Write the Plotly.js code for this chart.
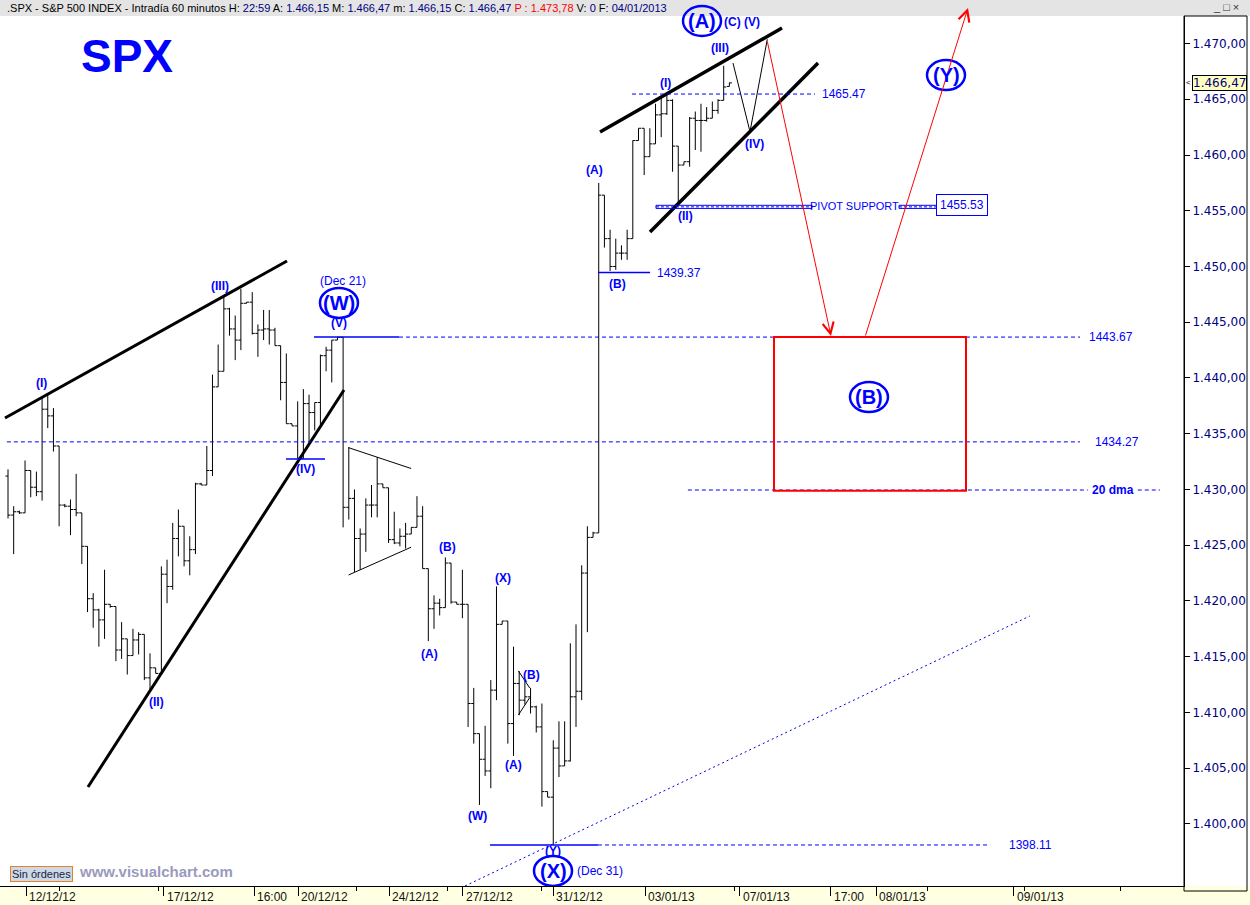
<!DOCTYPE html>
<html><head><meta charset="utf-8">
<script src="https://cdn.plot.ly/plotly-3.0.1.min.js"></script>
<style>html,body{margin:0;padding:0;background:#fff}#chart{width:1250px;height:905px}</style>
</head><body><div id="chart"></div>
<script>
// ---- hourly OHLC bars (SPX, 11/12/12 - 04/01/13) ----
const opens  = [1431.2,1427.7,1428.0,1427.9,1431.7,1430.2,1429.8,1437.2,1436.6,1433.9,1428.6,1428.5,1428.2,1427.9,1424.9,1420.2,1419.2,1418.3,1419.7,1419.5,1415.6,1416.6,1415.1,1416.5,1417.0,1413.1,1414.0,1413.5,1422.4,1421.3,1425.6,1426.7,1423.6,1424.6,1430.5,1430.4,1431.7,1439.2,1440.6,1446.2,1444.4,1443.4,1446.7,1446.8,1444.0,1444.3,1444.4,1444.3,1442.9,1439.6,1435.9,1435.7,1432.8,1437.7,1436.9,1437.8,1442.0,1442.5,1443.4,1443.65,1428.4,1429.2,1425.6,1426.0,1428.6,1428.6,1430.5,1430.15,1425.5,1425.2,1425.8,1426.0,1426.6,1427.6,1422.9,1419.3,1419.8,1419.4,1423.4,1419.9,1419.7,1419.7,1410.8,1408.1,1405.8,1404.75,1412.0,1417.9,1418.2,1409.0,1412.6,1411.1,1411.4,1410.5,1408.7,1402.9,1402.4,1406.8,1405.2,1405.65,1411.4,1411.9,1422.5,1425.7,1426.1,1456.4,1452.5,1450.0,1451.2,1451.2,1452.5,1461.3,1462.4,1459.85,1461.0,1463.6,1463.7,1464.9,1460.8,1459.1,1459.4,1463.3,1463.1,1463.1,1463.3,1464.0,1464.9,1466.15];
const highs  = [1431.8,1428.5,1428.1,1432.6,1431.7,1431.6,1438.3,1438.6,1437.3,1433.9,1428.7,1429.1,1431.4,1427.9,1424.9,1420.7,1419.3,1422.8,1419.7,1419.5,1418.1,1416.6,1417.5,1417.2,1417.0,1415.3,1414.0,1423.1,1423.7,1427.0,1428.2,1426.7,1425.8,1430.6,1430.6,1433.9,1440.3,1443.0,1447.4,1446.3,1445.6,1448.0,1446.8,1447.7,1444.8,1446.1,1446.1,1444.5,1442.9,1442.2,1435.9,1437.9,1439.0,1438.5,1437.8,1442.1,1442.8,1443.4,1443.65,1443.67,1433.8,1430.0,1426.5,1429.2,1430.4,1432.9,1430.5,1430.15,1428.0,1426.5,1427.0,1426.6,1429.4,1428.5,1422.9,1420.5,1420.2,1423.9,1423.4,1419.9,1422.8,1419.7,1412.2,1408.1,1408.8,1412.9,1421.3,1418.2,1418.2,1415.9,1413.7,1412.9,1412.2,1410.6,1410.8,1402.9,1407.5,1409.2,1409.2,1416.2,1417.9,1423.2,1426.7,1426.2,1457.5,1456.4,1453.3,1452.5,1451.9,1453.3,1461.3,1462.4,1462.4,1462.4,1464.6,1465.2,1465.5,1465.0,1460.8,1459.4,1463.4,1463.9,1464.6,1464.3,1464.8,1465.0,1468.0,1466.5];
const lows   = [1427.4,1424.2,1427.8,1427.9,1429.3,1429.4,1429.0,1435.5,1433.4,1426.7,1428.4,1425.9,1427.6,1423.3,1419.0,1417.6,1415.9,1416.6,1419.4,1414.6,1414.8,1413.4,1415.1,1415.2,1412.9,1412.0,1413.5,1413.5,1419.8,1421.0,1424.0,1423.1,1422.3,1424.2,1430.4,1430.4,1431.2,1439.2,1440.6,1443.8,1441.6,1442.5,1446.7,1443.9,1441.9,1443.4,1443.0,1442.9,1438.0,1435.9,1435.7,1432.8,1432.8,1434.3,1435.3,1435.8,1440.6,1439.6,1443.4,1426.6,1427.3,1422.6,1422.8,1424.4,1427.5,1427.5,1430.15,1425.2,1425.1,1424.9,1424.7,1426.0,1426.6,1422.9,1416.4,1417.5,1418.7,1419.4,1419.75,1419.7,1418.45,1408.7,1407.2,1401.7,1404.3,1403.2,1411.1,1417.9,1407.2,1406.1,1409.75,1410.7,1409.9,1408.2,1401.55,1402.4,1398.11,1404.2,1405.2,1405.6,1408.7,1411.1,1417.2,1425.7,1426.1,1451.7,1449.6,1449.7,1450.6,1450.6,1452.5,1461.3,1458.2,1459.85,1461.0,1461.6,1463.6,1458.5,1455.5,1459.1,1458.95,1460.45,1460.3,1463.0,1463.3,1463.7,1464.9,1466.15];
const closes = [1427.7,1428.0,1427.9,1431.7,1430.2,1429.8,1437.2,1436.6,1433.9,1428.6,1428.5,1428.2,1427.9,1424.9,1420.2,1419.2,1418.3,1419.7,1419.5,1415.6,1416.6,1415.1,1416.5,1417.0,1413.1,1414.0,1413.5,1422.4,1421.3,1425.6,1426.7,1423.6,1424.6,1430.5,1430.4,1431.7,1439.2,1440.6,1446.2,1444.4,1443.4,1446.7,1446.8,1444.0,1444.3,1444.4,1444.3,1442.9,1439.6,1435.9,1435.7,1432.8,1437.7,1436.9,1437.8,1442.0,1442.5,1443.4,1443.65,1428.4,1429.2,1425.6,1426.0,1428.6,1428.6,1430.5,1430.15,1425.5,1425.2,1425.8,1426.0,1426.6,1427.6,1422.9,1419.3,1419.8,1419.4,1423.4,1419.9,1419.7,1419.7,1410.8,1408.1,1405.8,1404.75,1412.0,1417.9,1418.2,1409.0,1412.6,1411.1,1411.4,1410.5,1408.7,1402.9,1402.4,1406.8,1405.2,1405.65,1411.4,1411.9,1422.5,1425.7,1426.1,1456.4,1452.5,1450.0,1451.2,1451.2,1452.5,1461.3,1462.4,1459.85,1461.0,1463.6,1463.7,1464.9,1460.8,1459.1,1459.4,1463.3,1463.1,1463.1,1463.3,1464.0,1464.9,1466.1,1466.47];

// ---- time axis (bar-index units) ----
const tickLabels = ['12/12/12','17/12/12','16:00','20/12/12','24/12/12','27/12/12','31/12/12','03/01/13','07/01/13','17:00','08/01/13','09/01/13'];
const tickBars   = [3.17, 27.46, 43.31, 51.06, 67.08, 80.1, 95.95, 112.15, 128.87, 144.89, 152.82, 177.1];
const minorBars  = [9.15, 26.58, 61.27, 77.29, 94.01, 127.9, 161.8, 178.9, 195.86];
const priceTicks = [1400,1405,1410,1415,1420,1425,1430,1435,1440,1445,1450,1455,1460,1465,1470];

// ---- price levels ----
const lvl1465 = 1465.47, lvl1443 = 1443.67, lvl1434 = 1434.27, dma20 = 1429.95, lvl1398 = 1398.11, pivot = 1455.35, lvlB = 1449.46, lvlIV = 1432.73;
const lastPrice = 1466.47;

const idx = closes.map((_, i) => i);
const BLUE = '#0000ff';
const FONT = 'Liberation Sans, Arial, sans-serif';

const trace = {
  type: 'ohlc', x: idx, open: opens, high: highs, low: lows, close: closes,
  increasing: {line: {color: '#000', width: 1}}, decreasing: {line: {color: '#000', width: 1}},
  tickwidth: 0.45, hoverinfo: 'none', showlegend: false
};

const shapes = [];
const ann = [];
function line(x0,y0,x1,y1,color,width,dash){shapes.push({type:'line',xref:'x',yref:'y',x0,y0,x1,y1,layer:'above',line:{color,width,dash:dash||'solid'}});}
function ptext(x,y,text,size,color,bold,anchor){ann.push({xref:'x',yref:'y',x,y,text:bold?'<b>'+text+'</b>':text,showarrow:false,xanchor:anchor||'center',yanchor:'middle',font:{family:FONT,size,color}});}
function ptxt(x,y,text,font,extra){ann.push(Object.assign({xref:'paper',yref:'paper',x,y,text,showarrow:false,xanchor:'center',yanchor:'middle',font},extra||{}));}
function circ(x,y,rx,ry,xref,yref){shapes.push({type:'circle',xref:xref||'x',yref:yref||'y',xsizemode:'pixel',ysizemode:'pixel',xanchor:x,yanchor:y,x0:-rx,x1:rx,y0:-ry,y1:ry,layer:'above',line:{color:'#0000ff',width:2.5}});}
const PX = v => v/1184, PY = v => (886-v)/870;   // pixel -> paper helpers for page furniture

// backgrounds
shapes.push({type:'rect',xref:'paper',yref:'paper',x0:0,x1:1.06,y0:1,y1:1+16/870,fillcolor:'#E4E4E4',line:{width:0},layer:'below'});
shapes.push({type:'rect',xref:'paper',yref:'paper',x0:0,x1:1.06,y0:-19/870,y1:0,fillcolor:'#FFFFE1',line:{width:0},layer:'below'});
shapes.push({type:'rect',xref:'paper',yref:'paper',x0:1,x1:PX(1247),y0:-5/870,y1:1,line:{color:'#000',width:1},layer:'above'});

// thick trend lines
line(-0.53,1436.41,49.12,1450.49,'#000',3);
line(14.08,1403.31,59.15,1438.92,'#000',3);
line(104.23,1462.06,136.27,1471.39,'#000',3.5);
line(113.03,1453.09,142.61,1468.25,'#000',3.5);
// thin triangles
line(59.96,1433.75,70.97,1431.88,'#000',1);
line(59.96,1422.33,70.97,1424.82,'#000',1);
line(89.86,1413.72,91.85,1412.19,'#000',1);
line(89.86,1409.77,91.85,1411.33,'#000',1);
// zig-zag projection
line(127.64,1468.25,130.63,1462.09,'#000',1);
line(130.63,1462.09,133.68,1470.38,'#000',1);

// level lines
const DASH = '4px,3px';
line(109.86,lvl1465,142.08,lvl1465,BLUE,1,DASH);
line(53.87,lvl1443,68.84,lvl1443,BLUE,1.5);
line(68.84,lvl1443,188.73,lvl1443,BLUE,1,DASH);
line(-0.2,lvl1434,188.73,lvl1434,BLUE,1,DASH);
line(119.7,dma20,190.1,dma20,BLUE,1,DASH);
line(198.9,dma20,202.8,dma20,BLUE,1,DASH);
line(84.86,lvl1398,103.87,lvl1398,BLUE,1.5);
line(103.87,lvl1398,172.9,lvl1398,BLUE,1,DASH);
line(103.87,lvlB,113.03,lvlB,BLUE,1.5);
line(48.94,lvlIV,55.81,lvlIV,BLUE,1.5);
// pivot support double line
[[114.08,141.55],[156.87,163.56]].forEach(([a,b])=>{
  shapes.push({type:'rect',xref:'x',yref:'y',x0:a,x1:b,y0:pivot-0.14,y1:pivot+0.14,layer:'above',line:{color:BLUE,width:1}});
  line(a,pivot,b,pivot,BLUE,1,'3px,2px');
});
// dotted support diagonal
line(80.46,1394.43,179.9,1418.65,'#0000dd',1,'2px,3px');
// red (B) box
shapes.push({type:'rect',xref:'x',yref:'y',x0:134.86,x1:168.66,y0:1429.89,y1:1443.67,layer:'above',line:{color:'#ff0000',width:2}});

// red arrows
ann.push({xref:'x',yref:'y',axref:'x',ayref:'y',x:144.89,y:1443.76,ax:133.63,ay:1470.31,text:'',showarrow:true,arrowhead:5,arrowsize:2.2,arrowwidth:1,arrowcolor:'#ff0000'});
ann.push({xref:'paper',yref:'paper',x:PX(968),y:PY(8),ax:-103,ay:329,text:'',showarrow:true,arrowhead:5,arrowsize:2.2,arrowwidth:1,arrowcolor:'#ff0000'});

// wave labels
const waveLabels = [['(I)',5.81,1439.55],['(II)',26.23,1410.94],['(III)',37.32,1448.25],['(IV)',52.46,1431.83],['(V)',58.27,1444.93],['(A)',74.12,1415.25],['(B)',77.29,1424.84],['(X)',87.15,1422.06],['(W)',82.57,1400.71],['(A)',89.08,1405.29],['(B)',92.08,1413.36],['(Y)',95.95,1397.6],['(A)',103.17,1458.65],['(B)',107.22,1448.43],['(I)',115.67,1466.46],['(II)',119.19,1454.53],['(III)',125.35,1469.6],['(IV)',131.51,1460.99]];
waveLabels.forEach(([t,x,y])=>ptext(x,y,t,12,'#0000ff',true));
const bigLabels = [['(W)',58.27,1446.73],['(X)',95.95,1395.78],['(Y)',165.14,1467.17],['(B)',151.58,1438.29]];
bigLabels.forEach(([t,x,y])=>{ptext(x,y,t,20,'#0000ff',true);circ(x,y,19,15);});
ptxt(PX(702),PY(21),'<b>(A)</b>',{family:FONT,size:20,color:'#0000ff'});
circ(PX(702),PY(21),19,15,'paper','paper');
ptxt(PX(742),PY(22),'<b>(C) (V)</b>',{family:FONT,size:12,color:'#0000ff'});
ptext(58.98,1448.70,'(Dec 21)',12,BLUE,false);
ptext(99.9,1395.78,'(Dec 31)',12,BLUE,false,'left');
ptext(147.1,lvl1465,'1465.47',12,BLUE,false);
ptext(113.9,lvlB,'1439.37',12,BLUE,false,'left');
ptext(194.2,lvl1443,'1443.67',12,BLUE,false);
ptext(195.2,lvl1434,'1434.27',12,BLUE,false);
ptext(194.6,dma20,'20 dma',12,BLUE,true);
ptext(180.1,lvl1398,'1398.11',12,BLUE,false);
ptext(149.1,pivot+0.05,'PIVOT SUPPORT',11,BLUE,false);
ann.push({xref:'x',yref:'y',x:167.87,y:pivot+0.15,xanchor:'center',yanchor:'middle',text:'1455.53',showarrow:false,bordercolor:BLUE,borderwidth:1,borderpad:3,bgcolor:'#fff',font:{family:FONT,size:12,color:BLUE}});
// SPX title
ptxt(PX(127),PY(56),'<b>SPX</b>',{family:FONT,size:46,color:'#0000ff'});
// header
ptxt(PX(5),PY(8),'.SPX - S&amp;P 500 INDEX - Intradía 60 minutos H: <span style="color:#000080">22:59</span> A: <span style="color:#000080">1.466,15</span> M: <span style="color:#000080">1.466,47</span> m: <span style="color:#000080">1.466,15</span> C: <span style="color:#000080">1.466,47</span> <span style="color:#ff0000">P : 1.473,78</span> V: <span style="color:#000080">0</span> F: <span style="color:#000080">04/01/2013</span>',
  {family:FONT,size:11,color:'#000'},{xanchor:'left'});
ptxt(PX(1226),PY(7),'_ □ ×',{family:FONT,size:11,color:'#333'});
// last price tag
ann.push({xref:'paper',yref:'y',x:PX(1192),y:lastPrice,xanchor:'left',yanchor:'middle',text:'1.466,47',showarrow:false,bgcolor:'#FFFFC0',bordercolor:'#000',borderwidth:1,borderpad:0,font:{family:'DejaVu Sans',size:12,color:'#000080'}});
ann.push({xref:'paper',yref:'y',x:PX(1188),y:lastPrice,xanchor:'center',yanchor:'middle',text:'&lt;',showarrow:false,font:{family:FONT,size:8,color:'#000'}});
// footer
ptxt(PX(10),PY(874),'Sin órdenes',{family:FONT,size:11,color:'#223'},{xanchor:'left',bgcolor:'#CCD9EA',bordercolor:'#E8801E',borderwidth:1,borderpad:1});
ptxt(PX(77),PY(871),'<b>www.visualchart.com</b>',{family:FONT,size:15,color:'#9a9abd'},{xanchor:'left'});
// x tick labels
tickLabels.forEach((t,i)=>ann.push({xref:'x',yref:'paper',x:tickBars[i],y:0,xanchor:'left',yanchor:'top',xshift:1,yshift:-2,text:t,showarrow:false,font:{family:FONT,size:12,color:'#111'}}));

const layout = {
  width:1250, height:905, margin:{l:0,r:66,t:16,b:19,pad:0},
  paper_bgcolor:'#fff', plot_bgcolor:'#fff', separators:',.', showlegend:false,
  xaxis:{range:[-1.408,207.04], showgrid:false, zeroline:false, showline:true, linecolor:'#000', linewidth:1,
    tickmode:'array', tickvals:tickBars, ticks:'outside', ticklen:9, tickcolor:'#000', showticklabels:false,
    minor:{tickmode:'array', tickvals:minorBars, ticks:'outside', ticklen:4, tickcolor:'#000'},
    rangeslider:{visible:false}, fixedrange:true},
  yaxis:{side:'right', range:[1394.43,1472.47], tickmode:'array', tickvals:priceTicks, tickformat:',.2f', showgrid:false, zeroline:false,
    showline:true, linecolor:'#000', ticks:'outside', ticklen:5, tickcolor:'#000',
    tickfont:{family:'DejaVu Sans', size:12, color:'#000080'}, fixedrange:true},
  shapes, annotations: ann
};
Plotly.newPlot('chart',[trace],layout,{staticPlot:true});
</script></body></html>
